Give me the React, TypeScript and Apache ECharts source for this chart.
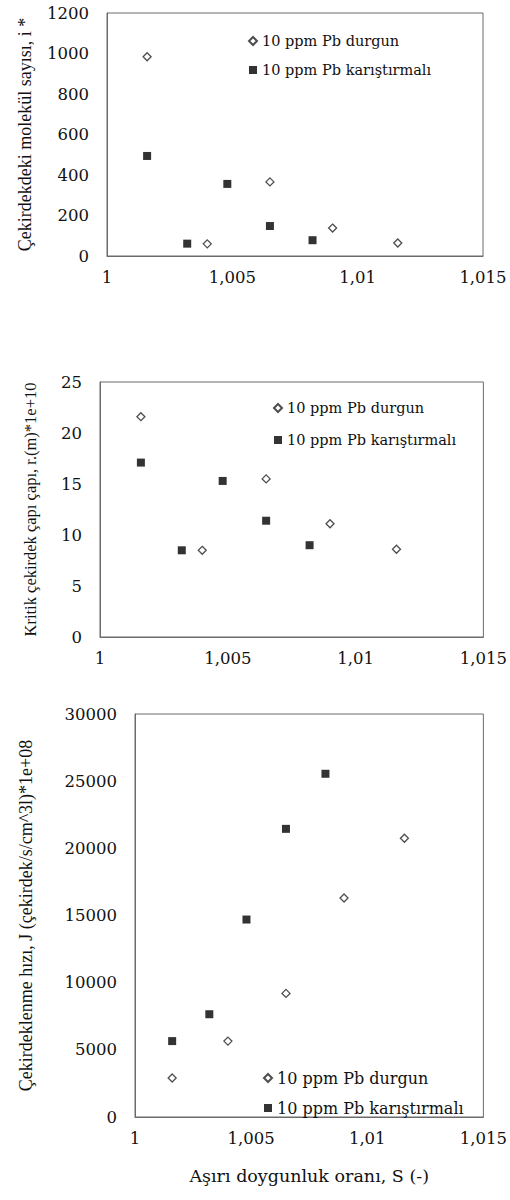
import React, { useEffect, useRef } from "react";
import * as echarts from "echarts";

// Supersaturation ratio S (x values)
const S_durgun = [1.0016, 1.004, 1.0065, 1.009, 1.0116];
const S_karistirmali = [1.0016, 1.0032, 1.0048, 1.0065, 1.0082];

// Chart 1: molecules in nucleus, i*
const i_durgun = [984, 60, 366, 138, 64];
const i_karistirmali = [494, 61, 356, 148, 78];

// Chart 2: critical nucleus radius r*(m)*1e+10
const r_durgun = [21.6, 8.5, 15.5, 11.1, 8.6];
const r_karistirmali = [17.1, 8.5, 15.3, 11.4, 9.0];

// Chart 3: nucleation rate J *1e+08
const J_durgun = [2900, 5650, 9200, 16300, 20750];
const J_karistirmali = [5650, 7650, 14700, 21450, 25550];

const NAME_D = "10 ppm Pb durgun";
const NAME_K = "10 ppm Pb karıştırmalı";

const yTitles = [
  "Çekirdekdeki molekül sayısı, i *",
  "Kritik çekirdek çapı çapı, r.(m)*1e+10",
  "Çekirdeklenme hızı, J (çekirdek/s/cm^3l)*1e+08",
];
const xTitle = "Aşırı doygunluk oranı, S (-)";

const yMax = [1200, 25, 30000];
const yStep = [200, 5, 5000];

const pairs = (xs: number[], ys: number[]) => xs.map((x, i) => [x, ys[i]]);

export default function App() {
  const ref = useRef<HTMLDivElement>(null);
  useEffect(() => {
    if (!ref.current) return;
    const chart = echarts.init(ref.current, null, { renderer: "svg" });
    const lineColor = "#6b6b6b";
    const tickFont = "DejaVu Serif";
    const textColor = "#111";
    const grids = [
      { left: 107, top: 13, width: 376, height: 243 },
      { left: 100, top: 382, width: 386, height: 255 },
      { left: 135, top: 714, width: 349, height: 403 },
    ];
    const yNameGap = [73, 61, 100];
    const yNameSize = [18, 16.5, 18];
    const xFmt = (v: number) => String(+v.toFixed(3)).replace(".", ",");
    const yFmt = (v: number) => String(v);
    const xAxes = grids.map((_, k) => ({
      type: "value",
      gridIndex: k,
      min: 1,
      max: 1.015,
      interval: 0.005,
      axisLine: { show: true, lineStyle: { color: lineColor } },
      axisTick: { show: false },
      splitLine: { show: false },
      axisLabel: {
        formatter: xFmt,
        fontFamily: tickFont,
        fontSize: 16.5,
        color: textColor,
        margin: 13,
      },
      ...(k === 2
        ? {
            name: xTitle,
            nameLocation: "middle",
            nameGap: 50,
            nameTextStyle: { fontFamily: "DejaVu Serif", fontSize: 17.5, color: textColor },
          }
        : {}),
    }));
    const yAxes = grids.map((_, k) => ({
      type: "value",
      gridIndex: k,
      min: 0,
      max: yMax[k],
      interval: yStep[k],
      axisLine: { show: true, lineStyle: { color: lineColor } },
      axisTick: { show: false },
      splitLine: { show: false },
      axisLabel: { formatter: yFmt, fontFamily: tickFont, fontSize: 16.5, color: textColor, margin: 18 },
      name: yTitles[k],
      nameLocation: "middle",
      nameRotate: 90,
      nameGap: yNameGap[k],
      nameTextStyle: { fontFamily: "Liberation Serif", fontSize: yNameSize[k], color: textColor },
    }));
    const dSeries = (k: number, data: number[][]) => ({
      type: "scatter",
      name: NAME_D,
      xAxisIndex: k,
      yAxisIndex: k,
      symbol: "diamond",
      symbolSize: 8,
      itemStyle: { color: "#fff", borderColor: "#222", borderWidth: 1.3 },
      data,
    });
    const kSeries = (k: number, data: number[][]) => ({
      type: "scatter",
      name: NAME_K,
      xAxisIndex: k,
      yAxisIndex: k,
      symbol: "rect",
      symbolSize: 8,
      itemStyle: { color: "#000" },
      data,
    });
    const legendBase = {
      orient: "vertical",
      itemWidth: 8,
      itemHeight: 8,
      itemTextGap: 7,
      selectedMode: false,
      data: [NAME_D, NAME_K],
    };
    chart.setOption({
      animation: false,
      backgroundColor: "#fff",
      grid: grids.map((g) => ({ ...g, show: true, borderColor: lineColor, borderWidth: 1 })),
      xAxis: xAxes,
      yAxis: yAxes,
      legend: [
        {
          ...legendBase,
          left: 243,
          top: 26,
          itemGap: 9,
          textStyle: { fontFamily: "DejaVu Serif", fontSize: 14.5, color: textColor, lineHeight: 20 },
        },
        {
          ...legendBase,
          left: 268,
          top: 393,
          itemGap: 12,
          textStyle: { fontFamily: "DejaVu Serif", fontSize: 14.5, color: textColor, lineHeight: 20 },
        },
        {
          ...legendBase,
          left: 258,
          top: 1063,
          itemGap: 10,
          textStyle: { fontFamily: "DejaVu Serif", fontSize: 16, color: textColor, lineHeight: 20 },
        },
      ],
      series: [
        dSeries(0, pairs(S_durgun, i_durgun)),
        kSeries(0, pairs(S_karistirmali, i_karistirmali)),
        dSeries(1, pairs(S_durgun, r_durgun)),
        kSeries(1, pairs(S_karistirmali, r_karistirmali)),
        dSeries(2, pairs(S_durgun, J_durgun)),
        kSeries(2, pairs(S_karistirmali, J_karistirmali)),
      ],
    });
    return () => chart.dispose();
  }, []);
  return (
    <div
      ref={ref}
      style={{ position: "absolute", left: 0, top: 0, width: 510, height: 1200, background: "#fff" }}
    />
  );
}
